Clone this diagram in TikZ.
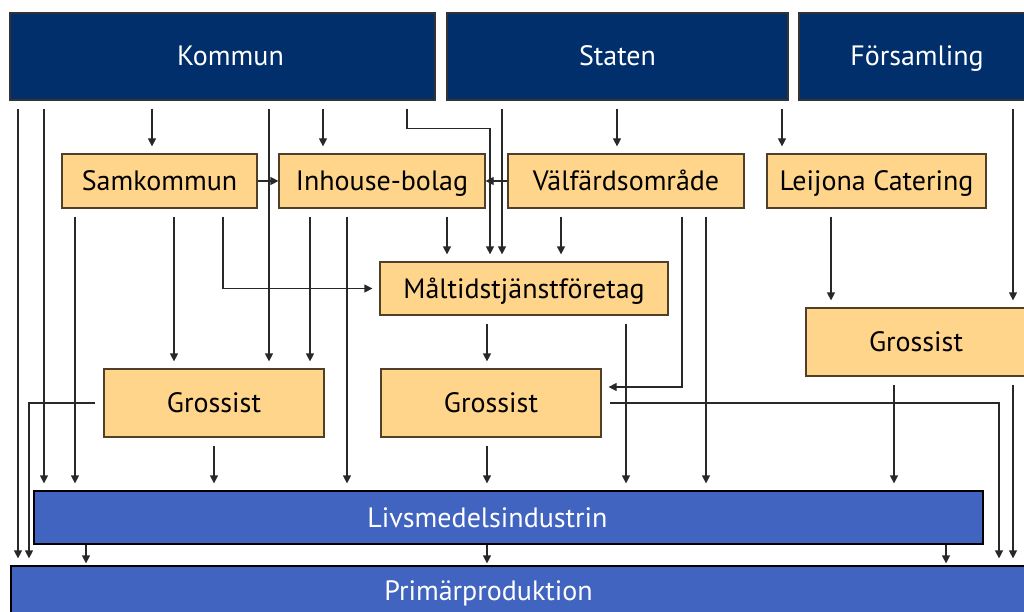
\documentclass[tikz,border=0pt]{standalone}
\usepackage{fontspec}
\setmainfont{PT Sans}
\usetikzlibrary{arrows.meta}

\definecolor{navy}{RGB}{0,47,107}
\definecolor{peach}{RGB}{255,213,140}
\definecolor{barblue}{RGB}{65,100,193}
\definecolor{rim}{RGB}{80,64,40}
\definecolor{wire}{RGB}{40,40,40}

\begin{document}
\begin{tikzpicture}[x=1pt, y=-1pt, font=\fontsize{28}{32}\selectfont, >={Triangle[length=8pt,width=8pt]}, line width=1.2pt]
    \tikzstyle{topbox}=[draw=black!80, fill=navy, text=white, minimum height=87pt, inner sep=0pt, text height=19pt, text depth=0pt]
    \tikzstyle{block}=[draw=rim, fill=peach, minimum height=54pt, inner sep=0pt, text height=19pt, text depth=0pt]
    \tikzstyle{bar}=[draw=black, fill=barblue, inner sep=0pt]
    \tikzstyle{bartext}=[text=white, inner sep=0pt, text height=19pt, text depth=0pt]
    \tikzstyle{arr}=[->, draw=wire, shorten <=8pt, shorten >=7pt]
    \tikzstyle{tight}=[->, draw=wire]
    \useasboundingbox (0,0) rectangle (1024,612);
    % owners
    \node[topbox, minimum width=425pt] (kommun) at (222.5,56.5) {\hspace*{16pt}Kommun};
    \node[topbox, minimum width=341pt] (staten) at (617.5,56.5) {Staten};
    \node[topbox, minimum width=236pt] (forsaml) at (917,56.5) {Församling};
    % organisers
    \node[block, minimum width=195pt] (samk) at (159.5,181) {Samkommun};
    \node[block, minimum width=206pt] (inhouse) at (382,181) {Inhouse-bolag};
    \node[block, minimum width=236pt] (valf) at (626,181) {Välfärdsområde};
    \node[block, minimum width=219pt] (leijona) at (876.5,181) {Leijona Catering};
    \node[block, minimum width=288pt, minimum height=53pt] (maalt) at (524,288.5) {Måltidstjänstföretag};
    \node[block, minimum width=220pt, minimum height=68pt] (gros1) at (214,403) {Grossist};
    \node[block, minimum width=220pt, minimum height=68pt] (gros2) at (491,403) {Grossist};
    \node[block, minimum width=220pt, minimum height=68pt] (gros3) at (916,342) {Grossist};
    % producers
    \node[bar, minimum width=949pt, minimum height=53pt] (livs) at (508.5,517.5) {};
    \node[bartext] (livstext) at ([xshift=-21pt]livs.center) {Livsmedelsindustrin};
    \node[bar, minimum width=1019pt, minimum height=50pt] (prim) at (520.5,591) {};
    \node[bartext] (primtext) at ([xshift=-32pt]prim.center) {Primärproduktion};
    % from Kommun
    \draw[arr] (kommun.south -| 18,0) -- (prim.north -| 18,0);
    \draw[arr] (kommun.south -| 44,0) -- (livs.north -| 44,0);
    \draw[arr] (kommun.south -| 152,0) -- (samk.north -| 152,0);
    \draw[arr] (kommun.south -| 269,0) -- (gros1.north -| 269,0);
    \draw[arr] (kommun.south -| 323,0) -- (inhouse.north -| 323,0);
    \draw[arr] (kommun.south -| 407,0) -- ++(0,28) -| (maalt.north -| 490,0);
    % from Staten and Församling
    \draw[arr] (staten.south -| 502,0) -- (maalt.north -| 502,0);
    \draw[arr] (staten.south -| 617,0) -- (valf.north -| 617,0);
    \draw[arr] (staten.south -| 782,0) -- (leijona.north -| 782,0);
    \draw[arr] (forsaml.south -| 1013,0) -- (gros3.north -| 1013,0);
    \draw[tight] (samk) -- (inhouse);
    \draw[tight] (valf) -- (inhouse);
    % second row
    \draw[arr] (samk.south -| 75,0) -- (livs.north -| 75,0);
    \draw[arr] (samk.south -| 174,0) -- (gros1.north -| 174,0);
    \draw[arr] (samk.south -| 223,0) |- (maalt.west);
    \draw[arr] (inhouse.south -| 310,0) -- (gros1.north -| 310,0);
    \draw[arr] (inhouse.south -| 347,0) -- (livs.north -| 347,0);
    \draw[arr] (inhouse.south -| 447,0) -- (maalt.north -| 447,0);
    \draw[arr] (valf.south -| 561,0) -- (maalt.north -| 561,0);
    \draw[arr] (valf.south -| 682,0) |- ([yshift=16pt]gros2.east);
    \draw[arr] (valf.south -| 706,0) -- (livs.north -| 706,0);
    \draw[arr] (leijona.south -| 831,0) -- (gros3.north -| 831,0);
    \draw[arr] (maalt.south -| 487,0) -- (gros2.north -| 487,0);
    \draw[arr] (maalt.south -| 626,0) -- (livs.north -| 626,0);
    % wholesalers
    \draw[arr] (gros1.south -| 214,0) -- (livs.north -| 214,0);
    \draw[arr] (gros1.west) -| (prim.north -| 29,0);
    \draw[arr] (gros2.south -| 487,0) -- (livs.north -| 487,0);
    \draw[arr] (gros2.east) -| (prim.north -| 999,0);
    \draw[arr] (gros3.south -| 894,0) -- (livs.north -| 894,0);
    \draw[arr] (gros3.south -| 1013,0) -- (prim.north -| 1013,0);
    \foreach \x in {86,487,946}
        \draw[tight, shorten >=2pt] (livs.south -| \x,0) -- (prim.north -| \x,0);
\end{tikzpicture}
\end{document}
